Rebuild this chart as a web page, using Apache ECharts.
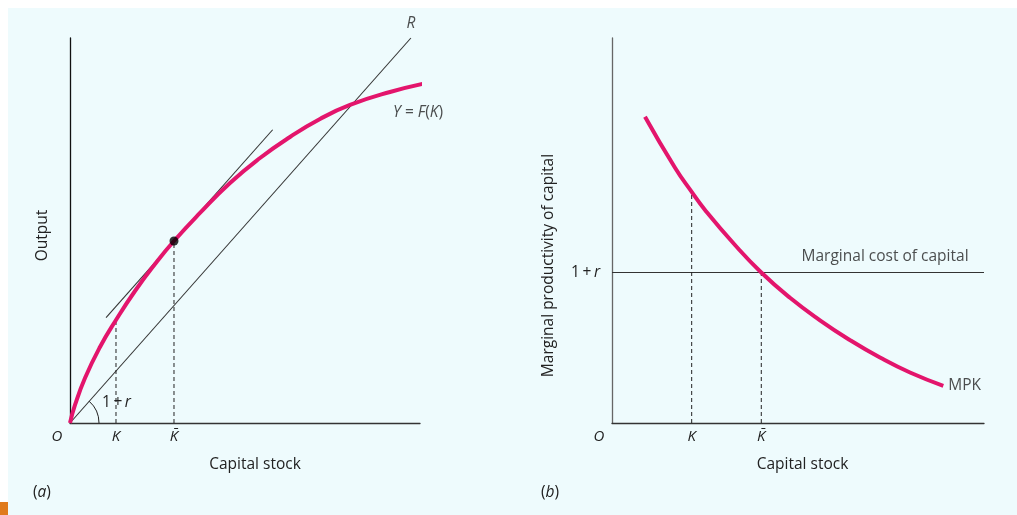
<!DOCTYPE html>
<html>
<head>
<meta charset="utf-8">
<script src="https://cdn.jsdelivr.net/npm/echarts@6/dist/echarts.min.js"></script>
<style>
  html, body { margin: 0; padding: 0; background: #ffffff; }
  #chart { width: 1017px; height: 515px; }
</style>
</head>
<body>
<div id="chart"></div>
<script>
// ---- Panel (a): output against capital stock ----
const outputCurve = [[0, 0], [1.43, 4.68], [4.29, 11.69], [8.57, 19.74], [13.14, 26.75], [18.57, 34.29],
                     [24.29, 41.30], [29.71, 47.27], [37.14, 54.55], [45.71, 62.34], [54.29, 68.83],
                     [62.86, 74.29], [71.43, 78.96], [80.0, 82.60], [91.43, 85.97], [102.0, 88.31]];
const returnLine = [[0, 0], [97.4, 100]];
const tangentLine = [[10.3, 27.38], [57.9, 76.17]];
const kLowA = 13.14, kBarA = 29.71;
const outputAtK = 26.75, outputAtKBar = 47.27;
const tickValuesA = [0, kLowA, kBarA];

// ---- Panel (b): marginal productivity of capital ----
const mpkCurve = [[8.87, 79.56], [16.94, 66.31], [21.42, 60.03], [25.0, 55.35], [33.06, 46.23],
                  [40.13, 39.09], [47.85, 32.52], [55.91, 26.68], [63.98, 21.53], [72.04, 17.01],
                  [80.11, 13.12], [89.06, 9.66]];
const costOfCapital = 39.09;
const kLowB = 21.42, kBarB = 40.13;
const mpkAtK = 60.03;
const tickValuesB = [0, kLowB, kBarB];

const tickNames = ['O', 'K', 'K\u0304'];

const FONT = "'Open Sans', 'Noto Sans', sans-serif";
const FS = 15.5;
const TICK_FS = 15;
const INK = '#222222';
const CURVE = '#e3156c';
const LINE = '#333333';

const italic = { fontFamily: FONT, fontStyle: 'italic', fontSize: FS, color: INK };
const tickItalic = { fontFamily: FONT, fontStyle: 'italic', fontSize: TICK_FS, color: INK };
const richTicks = {
  o: Object.assign({}, tickItalic, { padding: [0, 26, 0, 0] }),
  k: tickItalic
};

function xTickFormatter(values) {
  return function (v) {
    const i = values.findIndex(t => Math.abs(t - v) < 1e-6);
    if (i === 0) return '{o|' + tickNames[0] + '}';
    return '{k|' + tickNames[i] + '}';
  };
}

function xAxisFor(grid, values, namePad) {
  return {
    gridIndex: grid, type: 'value', min: 0, max: 100,
    axisLine: { show: true, onZero: false, lineStyle: { color: LINE, width: 1.3 } },
    axisTick: { show: false },
    splitLine: { show: false },
    axisLabel: {
      show: true, customValues: values, margin: 6, showMinLabel: true,
      formatter: xTickFormatter(values), rich: richTicks
    },
    name: 'Capital stock', nameLocation: 'middle', nameGap: 34, nameMoveOverlap: false,
    nameTextStyle: { fontFamily: FONT, fontSize: FS, color: INK, padding: namePad }
  };
}

const dashed = { color: '#222', width: 1, type: [4, 3] };
const solid = { color: LINE, width: 1.1 };

function plain(name, data, xi, style, extra) {
  return Object.assign({
    name: name, type: 'line', xAxisIndex: xi, yAxisIndex: xi, data: data,
    showSymbol: false, symbol: 'none', silent: true, clip: false,
    lineStyle: style, z: 2
  }, extra || {});
}

function note(xi, items) {
  return {
    type: 'scatter', xAxisIndex: xi, yAxisIndex: xi, symbolSize: 0, silent: true, z: 5, clip: false,
    label: { show: true, fontFamily: FONT, fontSize: FS, color: INK },
    labelLayout: { hideOverlap: false },
    data: items
  };
}

const chart = echarts.init(document.getElementById('chart'), null, { renderer: 'canvas' });

chart.setOption({
  backgroundColor: '#ffffff',
  animation: false,
  grid: [
    { left: 70, top: 38, width: 350, height: 385, outerBoundsMode: 'none', containLabel: false },
    { left: 612, top: 38, width: 372, height: 385, outerBoundsMode: 'none', containLabel: false }
  ],
  xAxis: [
    xAxisFor(0, tickValuesA, [0, 0, 0, 20]),
    xAxisFor(1, tickValuesB, [0, 0, 0, 9])
  ],
  yAxis: [
    {
      gridIndex: 0, type: 'value', min: 0, max: 100,
      axisLine: { show: true, onZero: false, lineStyle: { color: '#111', width: 1.3 } },
      axisTick: { show: false }, axisLabel: { show: false }, splitLine: { show: false },
      name: 'Output', nameLocation: 'middle', nameGap: 19, nameMoveOverlap: false,
      nameTextStyle: { fontFamily: FONT, fontSize: FS, color: INK, padding: [0, 10, 0, 0] }
    },
    {
      gridIndex: 1, type: 'value', min: 0, max: 100,
      axisLine: { show: true, onZero: false, lineStyle: { color: '#666', width: 1.3 } },
      axisTick: { show: false }, splitLine: { show: false },
      axisLabel: {
        show: true, customValues: [costOfCapital], margin: 12,
        formatter: () => '1\u2009+\u2009{i|r}',
        fontFamily: FONT, fontSize: FS, color: INK,
        rich: { i: italic }
      },
      name: 'Marginal productivity of capital', nameLocation: 'middle', nameGap: 55, nameMoveOverlap: false,
      nameTextStyle: { fontFamily: FONT, fontSize: FS, color: INK, padding: [0, 70, 0, 0] }
    }
  ],
  series: [
    // panel (a)
    plain('R', returnLine, 0, solid),
    plain('tangent', tangentLine, 0, solid),
    plain('K', [[kLowA, 0], [kLowA, outputAtK]], 0, dashed),
    plain('K bar', [[kBarA, 0], [kBarA, outputAtKBar]], 0, dashed),
    plain('Y = F(K)', outputCurve, 0, { color: CURVE, width: 4 }, { smooth: 0.5, z: 3 }),
    {
      type: 'scatter', xAxisIndex: 0, yAxisIndex: 0, silent: true, z: 4,
      symbolSize: 9, itemStyle: { color: '#000' },
      data: [[kBarA, outputAtKBar]]
    },
    note(0, [
      {
        value: returnLine[1],
        label: { position: 'top', distance: 6, formatter: '{i|R}', rich: { i: italic } }
      },
      {
        value: outputCurve[outputCurve.length - 1],
        label: { position: [-9, 22], align: 'center', verticalAlign: 'top',
                 formatter: '{i|Y} = {i|F}({i|K})', rich: { i: italic } }
      }
    ]),
    // panel (b)
    plain('Marginal cost of capital', [[0, costOfCapital], [100, costOfCapital]], 1, solid),
    plain('K', [[kLowB, 0], [kLowB, mpkAtK]], 1, dashed),
    plain('K bar', [[kBarB, 0], [kBarB, costOfCapital]], 1, dashed),
    plain('MPK', mpkCurve, 1, { color: CURVE, width: 4 }, { smooth: 0.5, z: 3 }),
    note(1, [
      {
        value: [73.4, costOfCapital],
        label: { position: 'top', distance: 8, formatter: 'Marginal cost of capital' }
      },
      {
        value: mpkCurve[mpkCurve.length - 1],
        label: { position: 'right', distance: 5, formatter: 'MPK' }
      }
    ])
  ]
});

// Backdrop, panel tags and the angle mark at the origin of panel (a)
const origin = chart.convertToPixel({ gridIndex: 0 }, [0, 0]);
const rEnd = chart.convertToPixel({ gridIndex: 0 }, returnLine[1]);
const angle = Math.atan2(rEnd[1] - origin[1], rEnd[0] - origin[0]);
const richItalic = { i: { fontFamily: FONT, fontStyle: 'italic', fontSize: FS, fill: INK } };

chart.setOption({
  graphic: [
    { type: 'rect', z: -10, silent: true, shape: { x: 8, y: 8, width: 1009, height: 507 },
      style: { fill: '#eefbfd' } },
    { type: 'rect', z: -9, silent: true, shape: { x: 0, y: 502, width: 8, height: 13 },
      style: { fill: '#e07a1c' } },
    { type: 'arc', z: 10, silent: true,
      shape: { cx: origin[0], cy: origin[1], r: 29, startAngle: angle, endAngle: 0, clockwise: true },
      style: { stroke: '#222', lineWidth: 1, fill: null } },
    { type: 'text', z: 10, silent: true, x: origin[0] + 32, y: origin[1] - 20,
      style: { text: '1\u2009+\u2009{i|r}', fontFamily: FONT, fontSize: FS, fill: INK, verticalAlign: 'middle',
               rich: richItalic } },
    { type: 'text', z: 10, silent: true, x: 33, y: 493,
      style: { text: '({i|a})', fontFamily: FONT, fontSize: FS, fill: INK, verticalAlign: 'middle',
               rich: richItalic } },
    { type: 'text', z: 10, silent: true, x: 541, y: 493,
      style: { text: '({i|b})', fontFamily: FONT, fontSize: FS, fill: INK, verticalAlign: 'middle',
               rich: richItalic } }
  ]
});
</script>
</body>
</html>
